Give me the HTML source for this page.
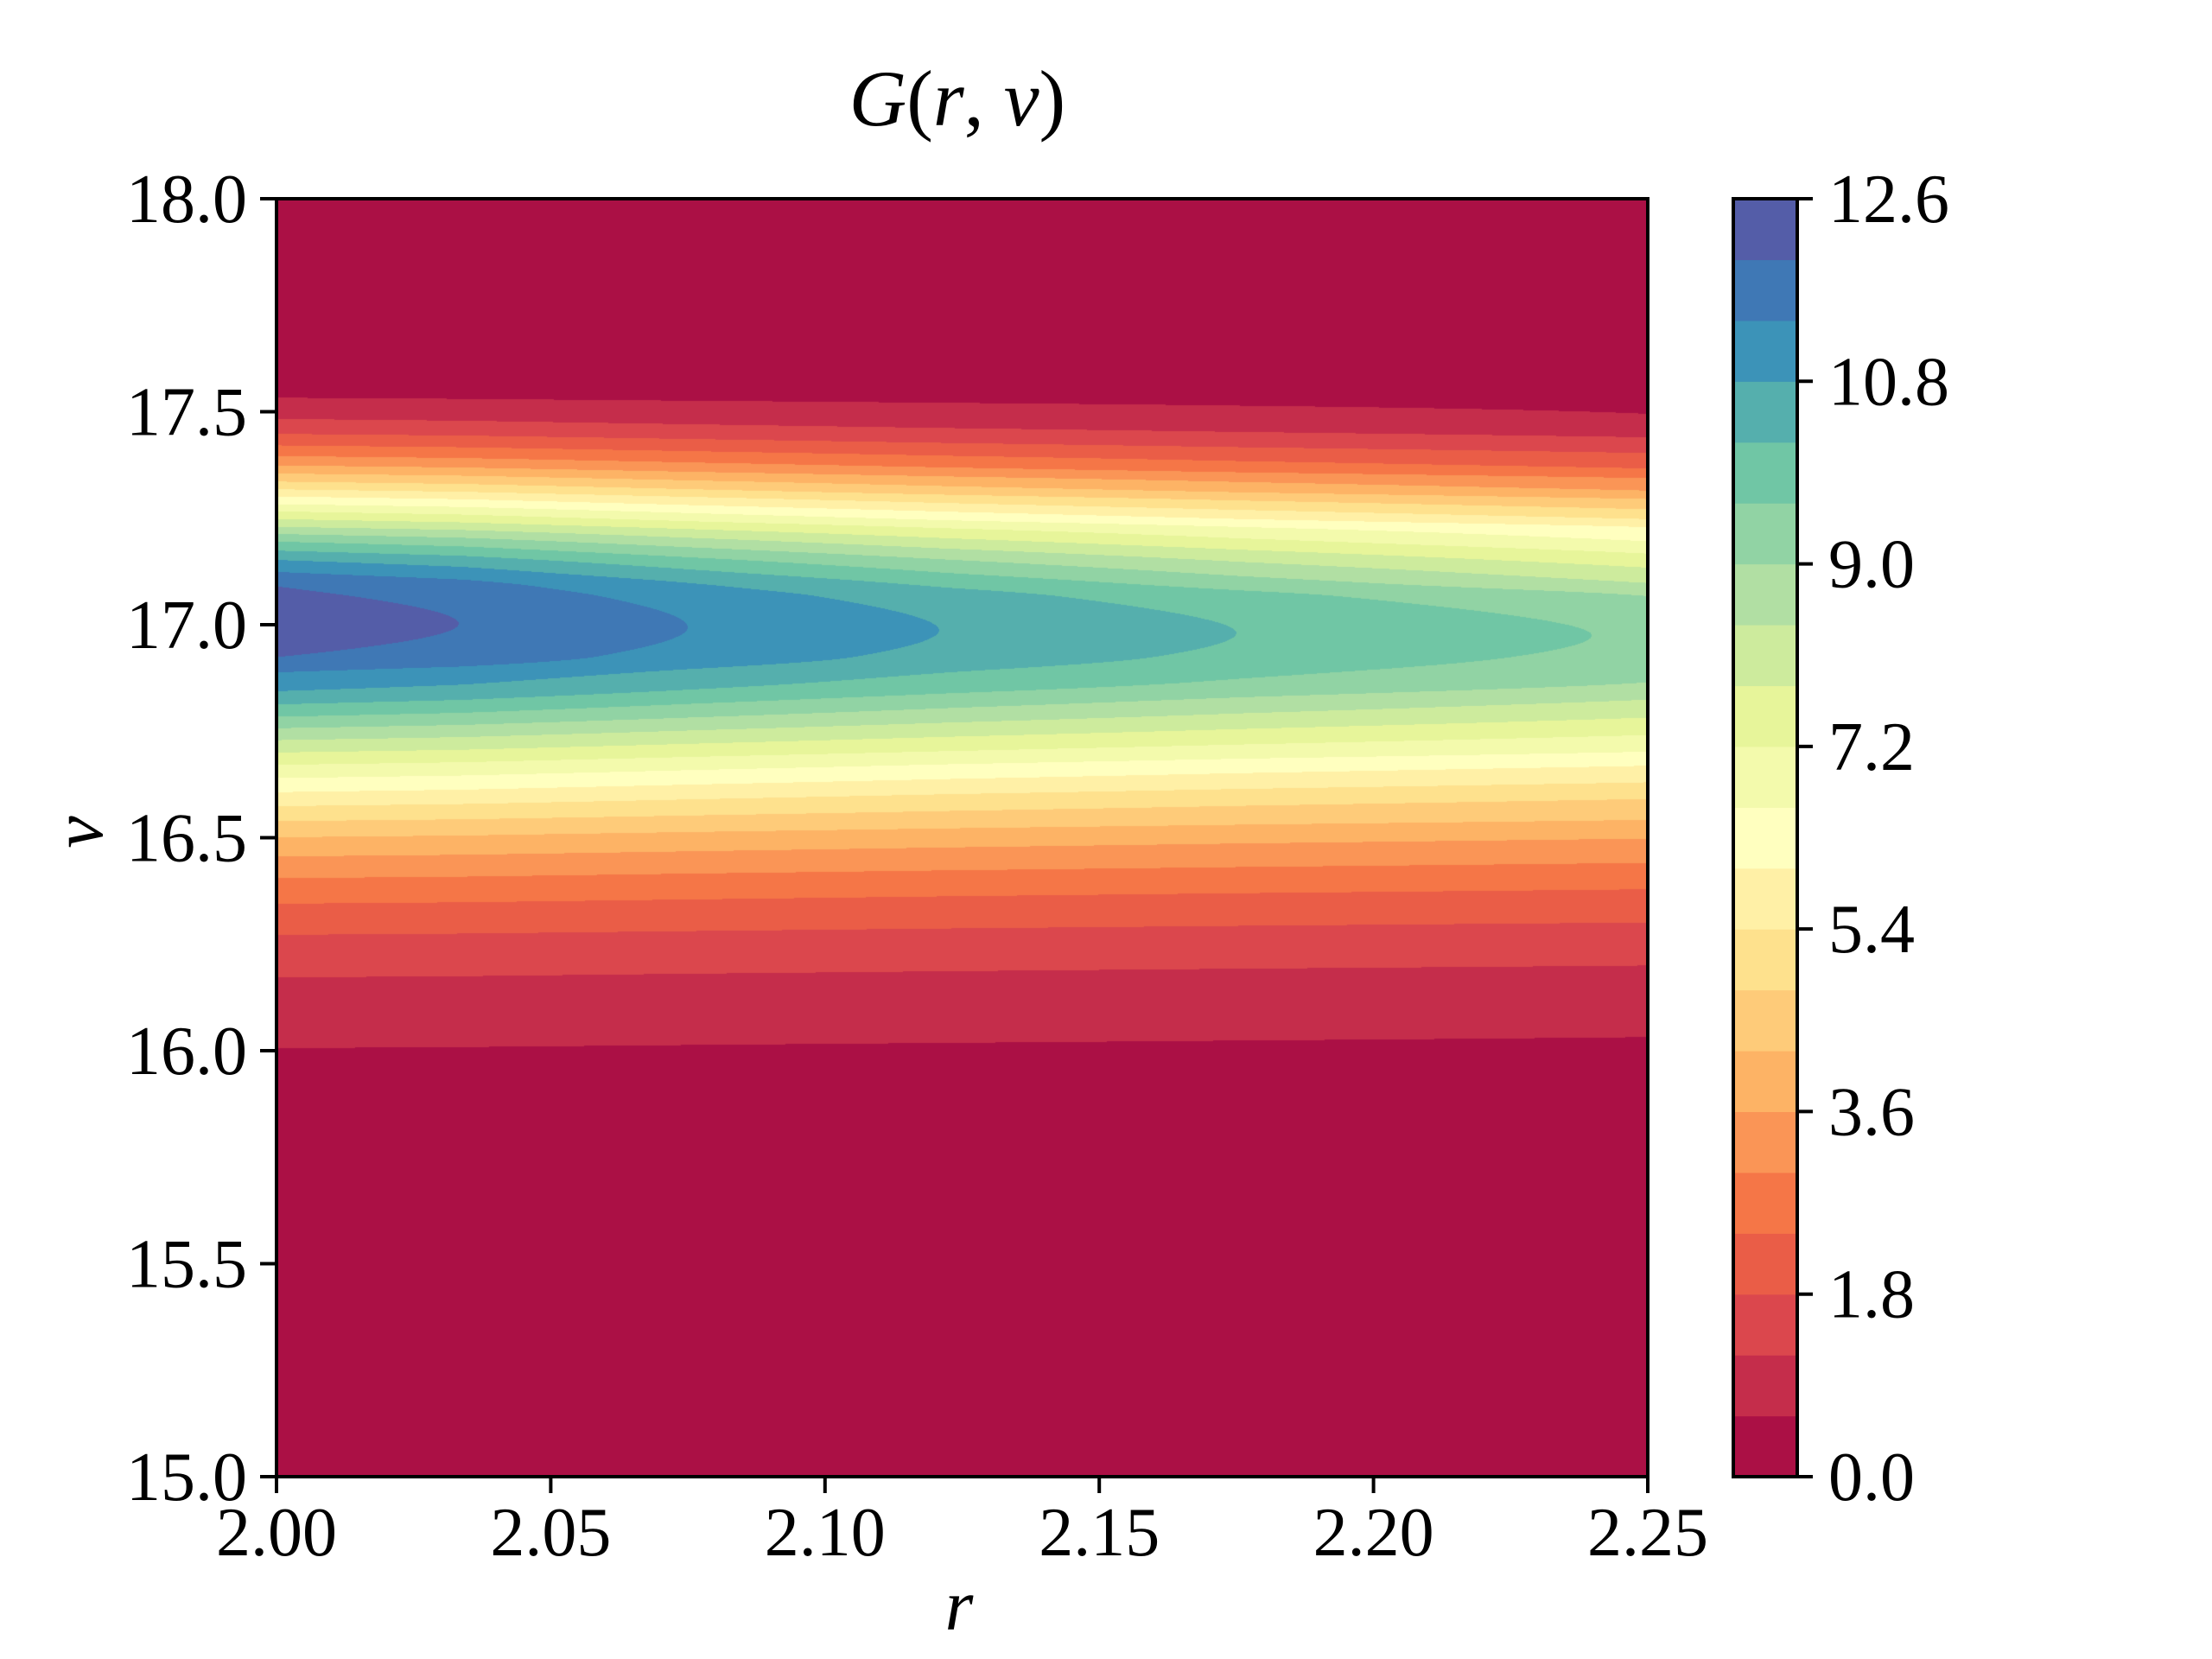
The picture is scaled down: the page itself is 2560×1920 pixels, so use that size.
<!DOCTYPE html>
<html><head><meta charset="utf-8">
<style>
html,body{margin:0;padding:0;background:#fff;}
#wrap{position:relative;width:2560px;height:1920px;overflow:hidden;}
canvas,svg{position:absolute;left:0;top:0;}
text{font-family:"Liberation Serif",serif;fill:#000;}
</style></head>
<body>
<div id="wrap">
<canvas id="cv" width="2560" height="1920"></canvas>
<svg id="sv" width="2560" height="1920"></svg>
</div>
<script>
// ---- data ----
const levels = [0,0.6,1.2,1.8,2.4,3.0,3.6,4.2,4.8,5.4,6.0,6.6,7.2,7.8,8.4,9.0,9.6,10.2,10.8,11.4,12.0,12.6];
const leftUpperNu = [17.533,17.483,17.448,17.421,17.396,17.374,17.355,17.336,17.318,17.301,17.283,17.266,17.248,17.230,17.213,17.195,17.174,17.152,17.124,17.090];
const leftLowerNu = [16.006,16.172,16.272,16.345,16.405,16.456,16.501,16.539,16.574,16.607,16.640,16.671,16.700,16.729,16.757,16.784,16.813,16.844,16.888,16.924];
const leftPeakNu = 17.007;
const leftPeakValue = 12.3;
const rightUpperNu = [17.495,17.440,17.403,17.367,17.344,17.315,17.295,17.271,17.248,17.229,17.196,17.167,17.134,17.098,17.067];
const rightLowerNu = [16.032,16.200,16.301,16.379,16.441,16.498,16.542,16.591,16.630,16.669,16.702,16.741,16.782,16.824,16.865];
const rightPeakNu = 16.974;
const rightPeakValue = 9.5;
const peakR = [2.0,2.034,2.076,2.122,2.176,2.24,2.25];
const peakVal = [12.3,12.0,11.4,10.8,10.2,9.6,9.5];
const xTicks = [2.00,2.05,2.10,2.15,2.20,2.25];
const xTickLabels = ["2.00","2.05","2.10","2.15","2.20","2.25"];
const yTicks = [15.0,15.5,16.0,16.5,17.0,17.5,18.0];
const yTickLabels = ["15.0","15.5","16.0","16.5","17.0","17.5","18.0"];
const cbTicks = [0,1.8,3.6,5.4,7.2,9.0,10.8,12.6];
const cbTickLabels = ["0.0","1.8","3.6","5.4","7.2","9.0","10.8","12.6"];

// ---- layout ----
const PL=320, PR=1907, PT=230, PB=1709;
const CBL=2006, CBR=2080;
const xMin=2.0,xMax=2.25,yMin=15,yMax=18,vMax=12.6;
const xs = v => PL + (v-xMin)/(xMax-xMin)*(PR-PL);
const ys = v => PB - (v-yMin)/(yMax-yMin)*(PB-PT);
const cs = v => PB - v/vMax*(PB-PT);

const spectral=[[158,1,66],[213,62,79],[244,109,67],[253,174,97],[254,224,139],[255,255,191],[230,245,152],[171,221,164],[102,194,165],[50,136,189],[94,79,162]];
function cmap(t){t=Math.max(0,Math.min(1,t));const f=t*10,i=Math.min(9,Math.floor(f)),a=f-i;
 const c0=spectral[i],c1=spectral[i+1];return [0,1,2].map(k=>Math.round(c0[k]+(c1[k]-c0[k])*a));}
const nBands = levels.length-1;
const bandColors=[];for(let i=0;i<nBands;i++)bandColors.push(cmap((i+0.5)/nBands));

function buildProfile(upper,lower,pNu,pVal){
  const pts=[[yMin,0],[yMax,0],[pNu,pVal]];
  upper.forEach((n,i)=>pts.push([n,levels[i+1]]));
  lower.forEach((n,i)=>pts.push([n,levels[i+1]]));
  pts.sort((a,b)=>a[0]-b[0]);
  // monotone cubic (Fritsch-Carlson) tangents
  const n=pts.length,d=[],m=new Array(n).fill(0);
  for(let i=0;i<n-1;i++)d.push((pts[i+1][1]-pts[i][1])/(pts[i+1][0]-pts[i][0]));
  m[0]=d[0];m[n-1]=d[n-2];
  for(let i=1;i<n-1;i++){if(d[i-1]*d[i]<=0)m[i]=0;else{const h0=pts[i][0]-pts[i-1][0],h1=pts[i+1][0]-pts[i][0];const w1=2*h1+h0,w2=h1+2*h0;m[i]=(w1+w2)/(w1/d[i-1]+w2/d[i]);}}
  return {pts,m};
}
function interp(P,x){
  const pts=P.pts,m=P.m;
  if(x<=pts[0][0])return pts[0][1];
  for(let i=1;i<pts.length;i++){if(x<=pts[i][0]){
    const x0=pts[i-1][0],x1=pts[i][0],h=x1-x0,t=(x-x0)/h;
    const y0=pts[i-1][1],y1=pts[i][1];
    const t2=t*t,t3=t2*t;
    return (2*t3-3*t2+1)*y0+(t3-2*t2+t)*h*m[i-1]+(-2*t3+3*t2)*y1+(t3-t2)*h*m[i];
  }}
  return pts[pts.length-1][1];
}
const Lp=buildProfile(leftUpperNu,leftLowerNu,leftPeakNu,leftPeakValue);
const Rp=buildProfile(rightUpperNu,rightLowerNu,rightPeakNu,rightPeakValue);
function peakAt(r){for(let i=1;i<peakR.length;i++){if(r<=peakR[i]){return peakVal[i-1]+(peakVal[i]-peakVal[i-1])*(r-peakR[i-1])/(peakR[i]-peakR[i-1]);}}return peakVal[peakVal.length-1];}

// ---- draw contour fill ----
const cv=document.getElementById('cv');const ctx=cv.getContext('2d');
const W=PR-PL,H=PB-PT;
const img=ctx.createImageData(W,H);
const colW=[];for(let x=0;x<W;x++){const r=xMin+(x+0.5)/W*(xMax-xMin);colW.push((leftPeakValue-peakAt(r))/(leftPeakValue-rightPeakValue));}
for(let y=0;y<H;y++){
  const nu=yMax-(y+0.5)/H*(yMax-yMin);
  const lv=interp(Lp,nu),rv=interp(Rp,nu);
  for(let x=0;x<W;x++){
    const w=colW[x];const g=lv*(1-w)+rv*w;
    let b=Math.floor(g/0.6);if(b<0)b=0;if(b>nBands-1)b=nBands-1;
    const c=bandColors[b];const o=(y*W+x)*4;
    img.data[o]=c[0];img.data[o+1]=c[1];img.data[o+2]=c[2];img.data[o+3]=255;
  }
}
ctx.putImageData(img,PL,PT);

// ---- svg overlay ----
const sv=document.getElementById('sv');const NS='http://www.w3.org/2000/svg';
function el(tag,attrs,parent){const e=document.createElementNS(NS,tag);for(const k in attrs)e.setAttribute(k,attrs[k]);(parent||sv).appendChild(e);return e;}

const cbG=el('g',{});


for(let i=0;i<nBands;i++){
  const c=bandColors[i];
  const r=el('rect',{x:CBL,y:cs(levels[i+1]),width:CBR-CBL,height:cs(levels[i])-cs(levels[i+1])+0.6,fill:`rgb(${c[0]},${c[1]},${c[2]})`},cbG);
  
  
}
const cbFrame=el('rect',{x:CBL,y:PT,width:CBR-CBL,height:PB-PT,fill:'none',stroke:'#000','stroke-width':4});


cbTicks.forEach((v,i)=>{
  const t=el('line',{x1:CBR,x2:CBR+18,y1:cs(v),y2:cs(v),stroke:'#000','stroke-width':4});
  
  
  const tx=el('text',{x:CBR+36,y:cs(v)+27,'font-size':80});
  tx.textContent=cbTickLabels[i];
  
  
});

const frame=el('rect',{x:PL,y:PT,width:W,height:H,fill:'none',stroke:'#000','stroke-width':4});


xTicks.forEach((v,i)=>{
  const t=el('line',{x1:xs(v),x2:xs(v),y1:PB,y2:PB+19,stroke:'#000','stroke-width':4});
  
  
  const tx=el('text',{x:xs(v),y:1800,'font-size':80,'text-anchor':'middle'});
  tx.textContent=xTickLabels[i];
  
  
});
yTicks.forEach((v,i)=>{
  const t=el('line',{x1:PL-19,x2:PL,y1:ys(v),y2:ys(v),stroke:'#000','stroke-width':4});
  
  
  const tx=el('text',{x:286,y:ys(v)+27,'font-size':80,'text-anchor':'end'});
  tx.textContent=yTickLabels[i];
  
  
});
const xl=el('text',{x:1110,y:1886,'font-size':84,'font-style':'italic','text-anchor':'middle'});
xl.textContent='r';


const yl=el('text',{x:0,y:0,'font-size':84,'font-style':'italic','text-anchor':'middle',transform:'translate(118,963) rotate(-90)'});
yl.textContent='ν';


const ti=el('text',{x:1108,y:145,'font-size':92,'text-anchor':'middle'});
ti.innerHTML='<tspan font-style="italic">G</tspan>(<tspan font-style="italic">r</tspan>, <tspan font-style="italic">ν</tspan>)';


</script>
</body></html>
